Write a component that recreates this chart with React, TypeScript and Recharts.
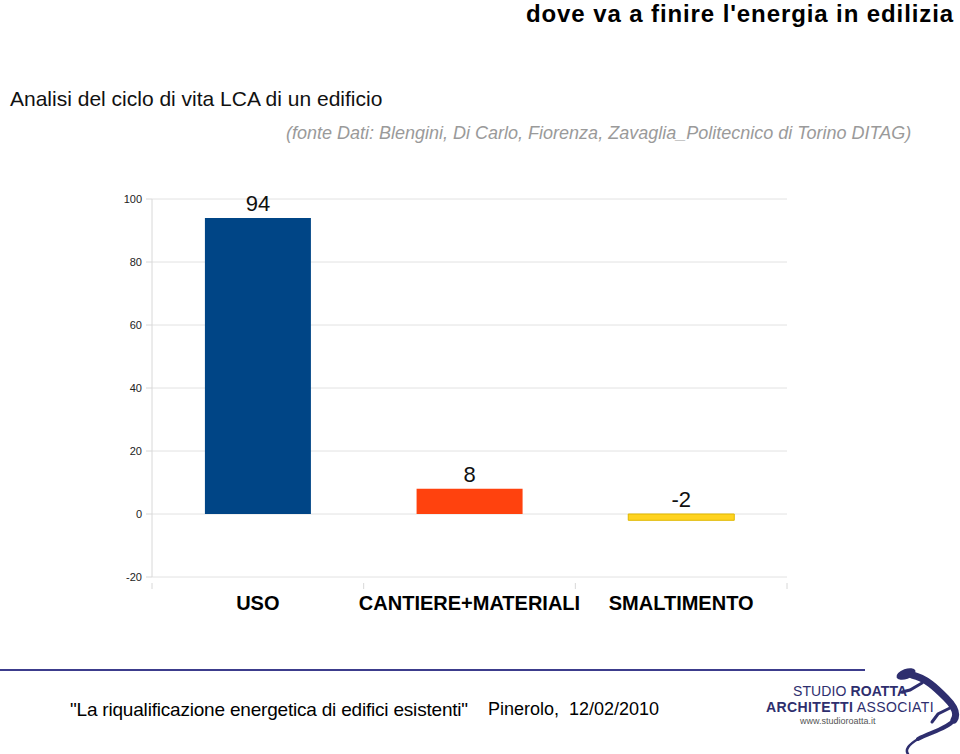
import React from 'react';
import { BarChart, Bar, XAxis, YAxis, CartesianGrid, Cell, LabelList } from 'recharts';

const categories = ['USO', 'CANTIERE+MATERIALI', 'SMALTIMENTO'];
const values = [94, 8, -2];
const barColors = ['#004586', '#ff420e', '#ffd320'];
const yTicks = [-20, 0, 20, 40, 60, 80, 100];

const data = categories.map((name, i) => ({ name, value: values[i] }));

const FONT = '"Liberation Sans", Arial, sans-serif';
const NAVY = '#2e2e6e';
const AXIS = '#d8d8d8';

// label above the top edge of the bar, also for negative bars
function ValueLabel(props: any) {
  const { x, y, width, height, value } = props;
  const top = Math.min(y, y + height);
  return (
    <text x={x + width / 2} y={top - 7} textAnchor="middle" fontSize={22} fontFamily={FONT} fill="#111">
      {value}
    </text>
  );
}

// category label, plus small tick marks on the category boundaries
function CategoryTick(props: any) {
  const { x, y, payload, index, visibleTicksCount } = props;
  const half = payload.offset || 0;
  const last = index === visibleTicksCount - 1;
  return (
    <g>
      <line x1={x - half} x2={x - half} y1={y} y2={y + 6} stroke={AXIS} />
      {last && <line x1={x + half} x2={x + half} y1={y} y2={y + 6} stroke={AXIS} />}
      <text x={x} y={y + 27} textAnchor="middle" fontSize={20} fontWeight="bold" fontFamily={FONT} fill="#000">
        {payload.value}
      </text>
    </g>
  );
}

// rough lizard mark of the logo
function Lizard() {
  return (
    <svg width={90} height={90} viewBox="0 0 90 90" style={{ position: 'absolute', left: 870, top: 664 }}>
      <ellipse cx={36} cy={10} rx={10} ry={5} fill={NAVY} transform="rotate(-20 36 10)" />
      <path d="M42 11 C 56 14, 66 24, 76 34 C 84 42, 88 50, 84 56" stroke={NAVY} strokeWidth={7} fill="none" strokeLinecap="round" />
      <path d="M84 56 C 78 64, 62 68, 48 75" stroke={NAVY} strokeWidth={4} fill="none" strokeLinecap="round" />
      <path d="M48 75 C 38 81, 35 86, 38 90" stroke={NAVY} strokeWidth={2.5} fill="none" strokeLinecap="round" />
      <path d="M52 19 L 40 26 L 32 28" stroke={NAVY} strokeWidth={3} fill="none" strokeLinecap="round" />
      <path d="M80 44 L 68 50 L 62 58" stroke={NAVY} strokeWidth={3} fill="none" strokeLinecap="round" />
    </svg>
  );
}

export default function App() {
  return (
    <div
      style={{
        position: 'absolute',
        left: 0,
        top: 0,
        width: 960,
        height: 754,
        background: '#fff',
        fontFamily: FONT,
        overflow: 'hidden',
      }}
    >
      <div
        style={{
          position: 'absolute',
          right: 6,
          top: 1,
          fontSize: 24,
          lineHeight: '26px',
          letterSpacing: 0.9,
          fontWeight: 'bold',
          color: '#000',
          whiteSpace: 'nowrap',
        }}
      >
        dove va a finire l'energia in edilizia
      </div>
      <div style={{ position: 'absolute', left: 10, top: 87, fontSize: 21, color: '#111' }}>
        Analisi del ciclo di vita LCA di un edificio
      </div>
      <div style={{ position: 'absolute', left: 286, top: 123, fontSize: 18, fontStyle: 'italic', color: '#9a9a9a' }}>
        (fonte Dati: Blengini, Di Carlo, Fiorenza, Zavaglia_Politecnico di Torino DITAG)
      </div>

      <div style={{ position: 'absolute', left: 0, top: 180 }}>
        <BarChart width={800} height={460} data={data} margin={{ top: 19, right: 13, left: 0, bottom: 0 }} barCategoryGap="25%">
          <CartesianGrid vertical={false} stroke="#e2e2e2" />
          <XAxis dataKey="name" height={63} axisLine={false} tickLine={false} tickMargin={0} interval={0} tick={CategoryTick} />
          <YAxis
            width={152}
            domain={[-20, 100]}
            ticks={yTicks}
            tickSize={6}
            tickMargin={4}
            axisLine={{ stroke: AXIS }}
            tickLine={{ stroke: AXIS }}
            tick={{ fontSize: 11, fill: '#222', fontFamily: FONT }}
          />
          <YAxis
            yAxisId="right"
            orientation="right"
            width={0}
            domain={[-20, 100]}
            tick={false}
            tickLine={false}
            axisLine={{ stroke: AXIS }}
          />
          <Bar dataKey="value" isAnimationActive={false}>
            {data.map((d, i) => (
              <Cell key={d.name} fill={barColors[i]} stroke={i === 2 ? '#e0b800' : 'none'} />
            ))}
            <LabelList dataKey="value" content={ValueLabel} />
          </Bar>
        </BarChart>
      </div>

      <div style={{ position: 'absolute', left: 0, top: 669, width: 865, height: 2, background: '#3c3c8c' }} />
      <div style={{ position: 'absolute', left: 70, top: 699, fontSize: 19, color: '#000', letterSpacing: -0.2 }}>
        "La riqualificazione energetica di edifici esistenti"
      </div>
      <div style={{ position: 'absolute', left: 488, top: 699, fontSize: 18, color: '#000' }}>
        Pinerolo,&nbsp;&nbsp;12/02/2010
      </div>

      <div style={{ position: 'absolute', left: 793, top: 683, fontSize: 14, color: NAVY, letterSpacing: 0.1 }}>
        STUDIO <b>ROATTA</b>
      </div>
      <div style={{ position: 'absolute', left: 766, top: 699, fontSize: 14, color: NAVY, letterSpacing: 0.4 }}>
        <b>ARCHITETTI</b> ASSOCIATI
      </div>
      <div style={{ position: 'absolute', left: 800, top: 716, fontSize: 9, color: '#555' }}>www.studioroatta.it</div>
      <Lizard />
    </div>
  );
}
